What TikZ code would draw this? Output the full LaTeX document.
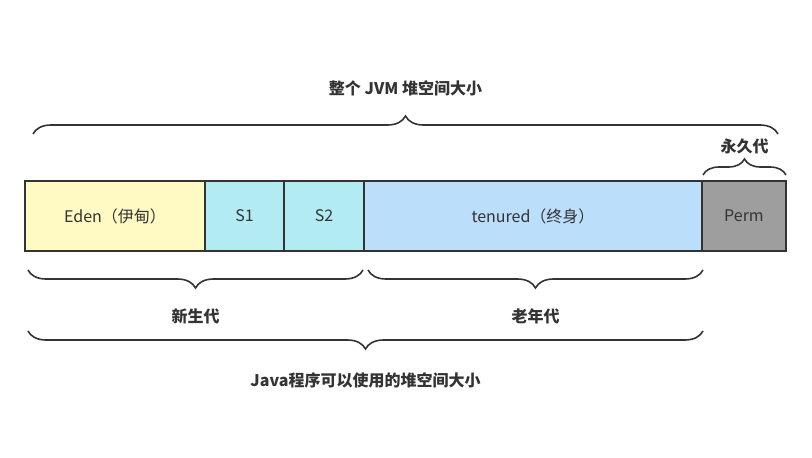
\documentclass[tikz,border=0pt]{standalone}
\usepackage{fontspec}
\setmainfont{Noto Sans CJK SC}
\usetikzlibrary{positioning,decorations.pathreplacing}

\definecolor{edenfill}{HTML}{FFF9C4}
\definecolor{survfill}{HTML}{B2EBF2}
\definecolor{tenfill}{HTML}{BBDEFB}
\definecolor{permfill}{HTML}{9E9E9E}
\definecolor{linegray}{HTML}{333333}

\tikzset{
    box/.style={draw=linegray,line width=1.6pt,minimum height=70pt,inner sep=0pt,outer sep=0pt,
        text=linegray,font=\fontsize{16}{19}\selectfont},
    curly/.style={decorate,decoration={brace,amplitude=#1},draw=linegray,line width=1.6pt},
    curly/.default=18pt,
    lbl/.style={text=linegray,font=\fontsize{16}{19}\selectfont\bfseries}
}

\begin{document}
\begin{tikzpicture}[x=1pt,y=-1pt]
    \useasboundingbox (0,0) rectangle (812,458);

    % the heap, left to right
    \node[box,fill=edenfill,minimum width=180pt] (eden) at (115,216) {Eden（伊甸）};
    \node[box,fill=survfill,minimum width=79pt,right=0pt of eden] (sone) {S1};
    \node[box,fill=survfill,minimum width=80pt,right=0pt of sone] (stwo) {S2};
    \node[box,fill=tenfill,minimum width=338pt,right=0pt of stwo] (tenured) {tenured（终身）};
    \node[box,fill=permfill,minimum width=84pt,right=0pt of tenured] (perm) {Perm};

    % braces above
    \coordinate (jvmL) at ([xshift=8pt,yshift=47pt]eden.north west);
    \coordinate (jvmR) at ([xshift=-8pt,yshift=47pt]perm.north east);
    \draw[curly] (jvmL) -- (jvmR) node[midway,above=34pt,lbl] (jvm) {整个 JVM 堆空间大小};

    \coordinate (permL) at ([xshift=1pt,yshift=6pt]perm.north west);
    \coordinate (permR) at ([yshift=6pt]perm.north east);
    \draw[curly=16pt] (permL) -- (permR) node[midway,above=17pt,lbl] (yongjiu) {永久代};

    % braces below
    \coordinate (youngL) at ([xshift=3pt,yshift=-19pt]eden.south west);
    \coordinate (youngR) at ([xshift=-1pt,yshift=-19pt]stwo.south east);
    \draw[curly,decoration={mirror}] (youngL) -- (youngR) node[midway,below=35pt,lbl] (young) {新生代};

    \coordinate (oldL) at ([xshift=4pt,yshift=-19pt]tenured.south west);
    \coordinate (oldR) at ([xshift=1pt,yshift=-19pt]tenured.south east);
    \draw[curly,decoration={mirror}] (oldL) -- (oldR) node[midway,below=35pt,lbl] (old) {老年代};

    \coordinate (javaL) at ([xshift=3pt,yshift=-80pt]eden.south west);
    \coordinate (javaR) at ([xshift=1pt,yshift=-80pt]tenured.south east);
    \draw[curly,decoration={mirror}] (javaL) -- (javaR) node[midway,below=38pt,lbl] (java) {Java程序可以使用的堆空间大小};
\end{tikzpicture}
\end{document}
